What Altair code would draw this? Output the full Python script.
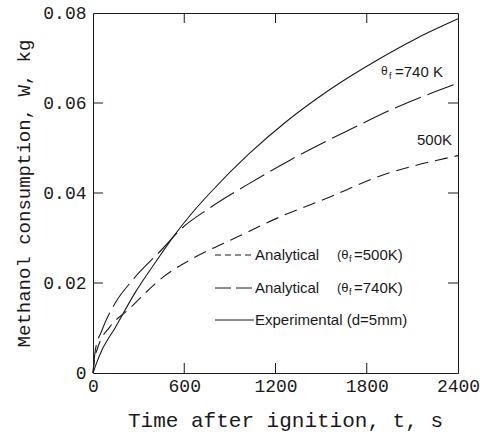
import altair as alt
import pandas as pd

# Experimental (d=5mm)
exp_t = [0, 30, 59, 145, 276, 421, 526, 650, 769, 1032, 1276, 1558, 1867, 2130, 2400]
exp_w = [0, 0.0028, 0.0051, 0.0100, 0.0178, 0.0251, 0.0302, 0.0355, 0.0400, 0.0489, 0.0560, 0.0630, 0.0695, 0.0744, 0.0787]

# Analytical, theta_f = 740 K
a740_t = [0, 15, 59, 145, 256, 454, 572, 769, 1012, 1295, 1539, 1690, 1973, 2400]
a740_w = [0, 0.0050, 0.0095, 0.0155, 0.0205, 0.0275, 0.0318, 0.0367, 0.0418, 0.0473, 0.0516, 0.0541, 0.0587, 0.0644]

# Analytical, theta_f = 500 K
a500_t = [0, 10, 30, 112, 230, 460, 658, 947, 1230, 1558, 1841, 2400]
a500_w = [0, 0.0030, 0.0055, 0.0103, 0.0140, 0.0213, 0.0255, 0.0302, 0.0347, 0.0391, 0.0432, 0.0483]

x_ticks = [0, 600, 1200, 1800, 2400]
y_ticks = [0, 0.02, 0.04, 0.06, 0.08]
inner_x = [600, 1200, 1800]
inner_y = [0.02, 0.04, 0.06]

W, H = 365, 360
INK = "#1a1a1a"
MONO = "Liberation Mono"
SANS = "Liberation Sans"

xs = alt.Scale(domain=[0, 2400], nice=False, zero=False)
ys = alt.Scale(domain=[0, 0.08], nice=False, zero=False)

def series(t, w, dash):
    df = pd.DataFrame({"t": t, "w": w})
    m = alt.Chart(df).mark_line(color=INK, strokeWidth=1.1, interpolate="monotone",
                                **({"strokeDash": dash} if dash else {}))
    return m.encode(
        x=alt.X("t:Q", scale=xs,
                axis=alt.Axis(values=x_ticks, format="d", title="Time after ignition, t, s", domain=False,
                              ticks=False, grid=False, labelFont=MONO, labelFontSize=18, labelColor=INK,
                              labelPadding=4, labelFlush=False, labelOverlap=False,
                              titleFont=MONO, titleFontSize=21, titleFontWeight="normal",
                              titleColor=INK, titleX=192, titleY=36)),
        y=alt.Y("w:Q", scale=ys,
                axis=alt.Axis(values=y_ticks, title="Methanol consumption, W, kg", domain=False, ticks=False,
                              grid=False, labelFont=MONO, labelFontSize=18, labelColor=INK, labelPadding=7,
                              labelFlush=False, labelOverlap=False,
                              labelExpr="datum.value == 0 ? '0' : format(datum.value, '.2f')",
                              titleFont=MONO, titleFontSize=19, titleFontWeight="normal", titleColor=INK,
                              titlePadding=9)),
        order="t:Q",
    )

exp_line = series(exp_t, exp_w, None)
l740 = series(a740_t, a740_w, [28, 7])
l500 = series(a500_t, a500_w, [13, 7])

xt = pd.DataFrame({"t": inner_x})
yt = pd.DataFrame({"w": inner_y})
tick_bottom = alt.Chart(xt).mark_rule(color=INK, strokeWidth=1).encode(
    x=alt.X("t:Q", scale=xs), y=alt.value(H), y2=alt.value(H - 10))
tick_top = alt.Chart(xt).mark_rule(color=INK, strokeWidth=1).encode(
    x=alt.X("t:Q", scale=xs), y=alt.value(0), y2=alt.value(10))
tick_left = alt.Chart(yt).mark_rule(color=INK, strokeWidth=1).encode(
    y=alt.Y("w:Q", scale=ys), x=alt.value(0), x2=alt.value(10))
tick_right = alt.Chart(yt).mark_rule(color=INK, strokeWidth=1).encode(
    y=alt.Y("w:Q", scale=ys), x=alt.value(W), x2=alt.value(W - 10))

# legend (manual)
leg_rows = [242, 275, 307]
leg_labels = ["Analytical", "Analytical", "Experimental (d=5mm)"]
leg_dash = [[6, 4], [16, 5], None]
leg_sub = ["=500K)", "=740K)", None]

layers = [l500, l740, exp_line, tick_bottom, tick_top, tick_left, tick_right]
anchor = pd.DataFrame({"a": [0]})
for yy, lab, dash, sub in zip(leg_rows, leg_labels, leg_dash, leg_sub):
    kw = {"strokeDash": dash} if dash else {}
    layers.append(alt.Chart(anchor).mark_rule(color=INK, strokeWidth=1, **kw).encode(
        x=alt.value(122), x2=alt.value(161), y=alt.value(yy)))
    layers.append(alt.Chart(anchor).mark_text(text=lab, font=SANS, fontSize=15, color=INK,
                                              align="left", baseline="middle").encode(
        x=alt.value(162), y=alt.value(yy)))
    if sub:
        layers.append(alt.Chart(anchor).mark_text(text="(θ", font=SANS, fontSize=13, color=INK,
                                                  align="left", baseline="middle").encode(
            x=alt.value(244), y=alt.value(yy)))
        layers.append(alt.Chart(anchor).mark_text(text="f", font=SANS, fontSize=9, color=INK,
                                                  align="left", baseline="middle").encode(
            x=alt.value(256), y=alt.value(yy + 4)))
        layers.append(alt.Chart(anchor).mark_text(text=sub, font=SANS, fontSize=15, color=INK,
                                                  align="left", baseline="middle").encode(
            x=alt.value(261), y=alt.value(yy)))

# curve annotations
layers.append(alt.Chart(anchor).mark_text(text="θ", font=SANS, fontSize=12, color=INK,
                                          align="left", baseline="middle").encode(
    x=alt.value(288), y=alt.value(58)))
layers.append(alt.Chart(anchor).mark_text(text="f", font=SANS, fontSize=9, color=INK,
                                          align="left", baseline="middle").encode(
    x=alt.value(296), y=alt.value(63)))
layers.append(alt.Chart(anchor).mark_text(text="=740 K", font=SANS, fontSize=15, color=INK,
                                          align="left", baseline="middle").encode(
    x=alt.value(302), y=alt.value(59)))
layers.append(alt.Chart(anchor).mark_text(text="500K", font=SANS, fontSize=15, color=INK,
                                          align="right", baseline="middle").encode(
    x=alt.value(359), y=alt.value(127)))

chart = alt.layer(*layers).properties(
    width=W, height=H,
    autosize=alt.AutoSizeParams(type="none"),
    padding={"left": 93, "top": 13, "right": 28, "bottom": 62},
    background="white",
).configure_view(stroke=INK, strokeWidth=1)

chart.save("out.html", embed_options={"renderer": "svg", "actions": False})
